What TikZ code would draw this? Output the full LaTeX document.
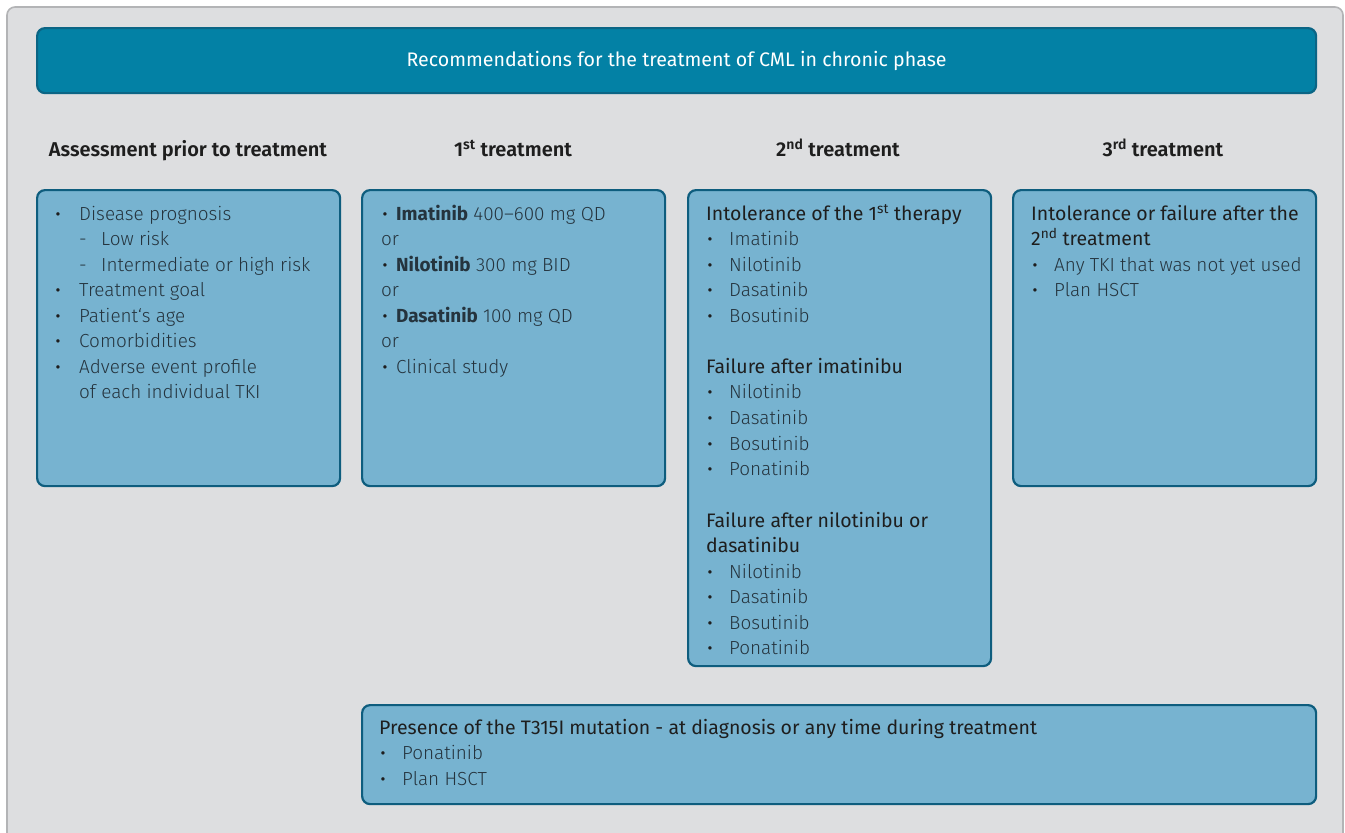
\documentclass[tikz,border=0pt]{standalone}
\usepackage{fontspec}
\setmainfont{Fira Sans}[UprightFont=* Light, BoldFont=* Medium]
\newfontfamily\regfont{Fira Sans}
\newfontfamily\semifont{Fira Sans SemiBold}
\definecolor{bgcol}{HTML}{DDDEE0}
\definecolor{framecol}{HTML}{B3B4B6}
\definecolor{titlefill}{HTML}{0381A5}
\definecolor{titleline}{HTML}{0B6585}
\definecolor{boxfill}{HTML}{77B3D0}
\definecolor{boxline}{HTML}{0E5D7E}
\definecolor{headtxt}{HTML}{1E1E1E}
\definecolor{itemtxt}{HTML}{25343E}
\begin{document}
\begin{tikzpicture}[x=1pt,y=-1pt,
  box/.style={draw=boxline, fill=boxfill, line width=2.2pt, rounded corners=8pt, anchor=north west, inner sep=0pt},
  colhead/.style={font=\fontsize{20}{22}\selectfont\semifont, text=headtxt, anchor=mid, yshift=-5pt},
  item/.style={font=\fontsize{18.9}{21}\selectfont, text=itemtxt, anchor=mid west, inner sep=0pt, yshift=-5pt},
  hd/.style={font=\fontsize{19.5}{21}\selectfont\regfont, text=headtxt, anchor=mid west, inner sep=0pt, yshift=-5pt},
  bul/.style={font=\fontsize{15}{16}\selectfont\regfont, text=headtxt, anchor=mid, inner sep=0pt, yshift=-4pt}]
\useasboundingbox (0,0) rectangle (1345,833);
% outer frame
\path[fill=bgcol, draw=framecol, line width=1.6pt, rounded corners=8pt] (7,7) rectangle (1343,845);
% title bar
\node[draw=titleline, fill=titlefill, line width=2.2pt, rounded corners=8pt, anchor=north west, minimum width=1279pt, minimum height=65pt, inner sep=0pt] (title) at (36,27) {};
\node[font=\fontsize{19.6}{22}\selectfont\regfont, text=white] (titletxt) at (title.center) {Recommendations for the treatment of CML in chronic phase};
% column headings
\node[colhead] (h1) at (188,149) {Assessment prior to treatment};
\node[colhead] (h2) at (513,149) {1\textsuperscript{st} treatment};
\node[colhead] (h3) at (838,149) {2\textsuperscript{nd} treatment};
\node[colhead] (h4) at (1163,149) {3\textsuperscript{rd} treatment};
% boxes
\node[box, minimum width=303pt, minimum height=296pt] (b1) at (36,189) {};
\node[box, minimum width=303pt, minimum height=296pt] (b2) at (361,189) {};
\node[box, minimum width=303pt, minimum height=476pt] (b3) at (687,189) {};
\node[box, minimum width=303pt, minimum height=296pt] (b4) at (1012,189) {};
\node[box, minimum width=954pt, minimum height=99pt] (b5) at (361,704) {};
% box 1
\foreach \y/\n in {213/a,289/b,315/c,340/d,366/e} \node[bul] (b1bul\n) at (58,\y) {•};
\node[item] (b1t1) at (79,213) {Disease prognosis};
\node[item] (b1d1) at (79,238) {-};
\node[item] (b1t2) at (101,238) {Low risk};
\node[item] (b1d2) at (79,264) {-};
\node[item] (b1t3) at (101,264) {Intermediate or high risk};
\node[item] (b1t4) at (79,289) {Treatment goal};
\node[item] (b1t5) at (79,315) {Patient‘s age};
\node[item] (b1t6) at (79,340) {Comorbidities};
\node[item] (b1t7) at (79,366) {Adverse event profile};
\node[item] (b1t8) at (79,391) {of each individual TKI};
% box 2
\foreach \y/\n in {213/a,264/b,315/c,366/d} \node[bul] (b2bul\n) at (385,\y) {•};
\node[item] (b2t1) at (396,213) {{\regfont\bfseries Imatinib} 400–600 mg QD};
\node[item] (b2o1) at (381,238) {or};
\node[item] (b2t2) at (396,264) {{\regfont\bfseries Nilotinib} 300 mg BID};
\node[item] (b2o2) at (381,289) {or};
\node[item] (b2t3) at (396,315) {{\regfont\bfseries Dasatinib} 100 mg QD};
\node[item] (b2o3) at (381,340) {or};
\node[item] (b2t4) at (396,366) {Clinical study};
% box 3
\node[hd] (b3h1) at (706,213) {Intolerance of the 1\textsuperscript{st} therapy};
\foreach \y/\t [count=\i] in {238/Imatinib,264/Nilotinib,289/Dasatinib,315/Bosutinib} {
  \node[bul] (b3ba\i) at (710,\y) {•};
  \node[item] (b3a\i) at (729,\y) {\t};
}
\node[hd] (b3h2) at (706,366) {Failure after imatinibu};
\foreach \y/\t [count=\i] in {391/Nilotinib,417/Dasatinib,443/Bosutinib,468/Ponatinib} {
  \node[bul] (b3bb\i) at (710,\y) {•};
  \node[item] (b3b\i) at (729,\y) {\t};
}
\node[hd] (b3h3) at (706,520) {Failure after nilotinibu or};
\node[hd] (b3h3b) at (706,545) {dasatinibu};
\foreach \y/\t [count=\i] in {571/Nilotinib,596/Dasatinib,622/Bosutinib,647/Ponatinib} {
  \node[bul] (b3bc\i) at (710,\y) {•};
  \node[item] (b3c\i) at (729,\y) {\t};
}
% box 4
\node[hd] (b4h1) at (1031,213) {Intolerance or failure after the};
\node[hd] (b4h2) at (1031,238) {2\textsuperscript{nd} treatment};
\node[bul] (b4ba) at (1035,264) {•};
\node[item] (b4t1) at (1054,264) {Any TKI that was not yet used};
\node[bul] (b4bb) at (1035,289) {•};
\node[item] (b4t2) at (1054,289) {Plan HSCT};
% box 5
\node[hd] (b5h1) at (379,727) {Presence of the T315I mutation - at diagnosis or any time during treatment};
\node[bul] (b5ba) at (383,752) {•};
\node[item] (b5t1) at (402,752) {Ponatinib};
\node[bul] (b5bb) at (383,778) {•};
\node[item] (b5t2) at (402,778) {Plan HSCT};
\end{tikzpicture}
\end{document}
